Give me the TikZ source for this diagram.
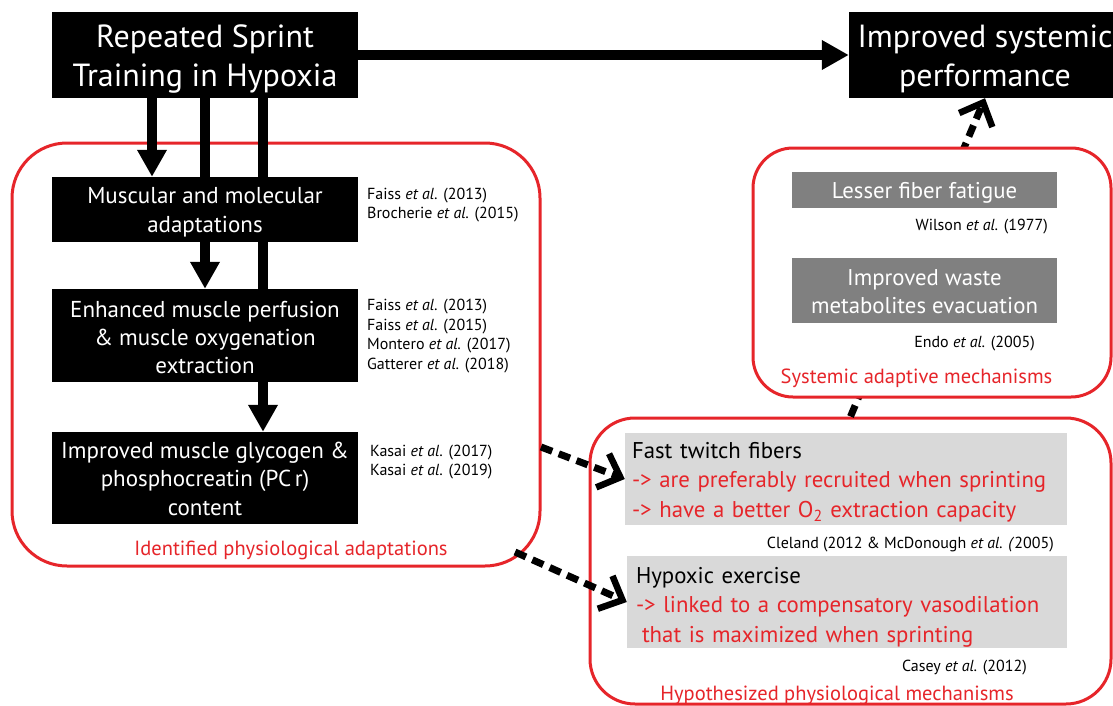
\documentclass[tikz,border=0pt]{standalone}
\usepackage{fontspec}
\setmainfont{PT Sans}
\usetikzlibrary{arrows.meta,calc}
\pgfdeclarelayer{frames}
\pgfdeclarelayer{links}
\pgfsetlayers{frames,links,main}
\definecolor{myred}{RGB}{230,37,42}
\definecolor{dgray}{RGB}{128,128,128}
\definecolor{lgray}{RGB}{217,217,217}
\begin{document}
\begin{tikzpicture}[x=1pt,y=-1pt,
  blk/.style={fill=black,text=white,align=center,inner sep=0pt,minimum width=306pt},
  gbox/.style={fill=dgray,text=white,align=center,inner sep=0pt,minimum width=265pt,font=\fontsize{22.8}{28}\selectfont},
  lbox/.style={fill=lgray,text=black,align=left,inner ysep=0pt,font=\fontsize{22.8}{29.5}\selectfont},
  cite/.style={align=left,inner sep=0pt,font=\fontsize{16}{18.5}\selectfont},
  redlab/.style={text=myred,inner sep=0pt,anchor=base,font=\fontsize{20.5}{25}\selectfont},
  redbox/.style={draw=myred,line width=3pt,fill=white,inner sep=0pt},
  arr/.style={line width=10pt,-{Triangle[length=27pt,width=28pt]}},
  darr/.style={line width=7pt,dash pattern=on 12pt off 7pt,-{Straight Barb[length=19pt,width=36pt,line width=6.5pt]}}
]
\useasboundingbox (0,0) rectangle (1113,706);

% red frames
\begin{pgfonlayer}{frames}
\node[redbox,rounded corners=55pt,minimum width=528pt,minimum height=423pt] (ident) at (276,354.5) {};
\end{pgfonlayer}
\node[redbox,rounded corners=45pt,minimum width=521pt,minimum height=286pt] (hypo) at (850.5,561) {};

% top boxes
\node[blk,minimum height=86pt,font=\fontsize{32}{39}\selectfont,text height=72pt,text depth=8pt] (tl) at (205,55) {Repeated Sprint\\Training in Hypoxia};
\node[blk,minimum width=272pt,minimum height=86pt,font=\fontsize{32}{39}\selectfont,text height=72pt,text depth=8pt] (tr) at (985,55) {Improved systemic\\performance};

% dashed arrow from hypothesized to performance (behind systemic frame)
\draw[darr] (hypo.north) -- (tr.south);
\node[redbox,rounded corners=40pt,minimum width=358pt,minimum height=249pt] (sys) at (932,272.5) {};

% left column boxes
\node[blk,minimum height=65pt,font=\fontsize{23}{29}\selectfont,text height=51pt,text depth=6pt] (b1) at (205,209.5) {Muscular and molecular\\adaptations};
\node[blk,minimum height=93pt,font=\fontsize{23}{28}\selectfont,text height=81pt,text depth=6pt] (b2) at (205,335.5) {Enhanced muscle perfusion\\\& muscle oxygenation\\extraction};
\node[blk,minimum height=92pt,font=\fontsize{23}{28.5}\selectfont,text height=80pt,text depth=6pt] (b3) at (205,478) {Improved muscle glycogen \&\\phosphocreatin (PC\,r)\\content};

% solid arrows
\draw[arr] (tl.east) -- (tr.west);
\begin{pgfonlayer}{links}
\draw[arr] (tl.south -| 152,0) -- (b1.north -| 152,0);
\draw[arr] (tl.south -| 205,0) -- (b2.north -| 205,0);
\draw[arr] (tl.south -| 263,0) -- (b3.north -| 263,0);
\end{pgfonlayer}

% citations left
\node[cite,anchor=base west] (c1) at (367,218) {Faiss \textit{et al.} (2013)\\Brocherie \textit{et al.} (2015)};
\node[cite,anchor=base west,font=\fontsize{16}{19.5}\selectfont] (c2) at (367,369) {Faiss \textit{et al.} (2013)\\Faiss \textit{et al.} (2015)\\Montero \textit{et al.} (2017)\\Gatterer \textit{et al.} (2018)};
\node[cite,anchor=base west] (c3) at (370,475) {Kasai \textit{et al.} (2017)\\Kasai \textit{et al.} (2019)};
\node[redlab] (identlab) at (291,555) {Identified physiological adaptations};

% systemic mechanisms
\node[gbox,minimum height=36pt,text height=21pt,text depth=5pt] (lesser) at (924.5,190) {Lesser fiber fatigue};
\node[cite,anchor=base east] (wilson) at (1048,230) {Wilson \textit{et al.} (1977)};
\node[gbox,minimum height=65pt,text height=50pt,text depth=5pt] (waste) at (924.5,290.5) {Improved waste\\metabolites evacuation};
\node[cite,anchor=base east] (endo) at (1035,347) {Endo \textit{et al.} (2005)};
\node[redlab] (syslab) at (916.5,383) {Systemic adaptive mechanisms};

% hypothesized mechanisms
\node[lbox,minimum width=442pt,minimum height=92pt,text width=428pt,inner xsep=7pt,text height=16pt,text depth=58pt] (fast) at (846,479)
  {Fast twitch fibers\\\textcolor{myred}{-> are preferably recruited when sprinting}\\\textcolor{myred}{-> have a better O\textsubscript{2} extraction capacity}};
\node[cite,anchor=base east] (cleland) at (1054,548) {Cleland (2012 \& McDonough \textit{et al. (}2005)};
\node[lbox,minimum width=440pt,minimum height=92pt,text width=422pt,inner xsep=9pt,text height=16pt,text depth=54pt] (hyp) at (847,602)
  {Hypoxic exercise\\\textcolor{myred}{-> linked to a compensatory vasodilation}\\\textcolor{myred}{\hspace*{6pt}that is maximized when sprinting}};
\node[cite,anchor=base east] (casey) at (1027,671) {Casey \textit{et al.} (2012)};
\node[redlab] (hypolab) at (837,700) {Hypothesized physiological mechanisms};

% dashed arrows from identified adaptations
\coordinate (d1s) at (541,447);
\coordinate (d2s) at (515,552);
\draw[darr] (d1s) -- (fast.west);
\draw[darr] (d2s) -- (hyp.west);
\end{tikzpicture}
\end{document}
